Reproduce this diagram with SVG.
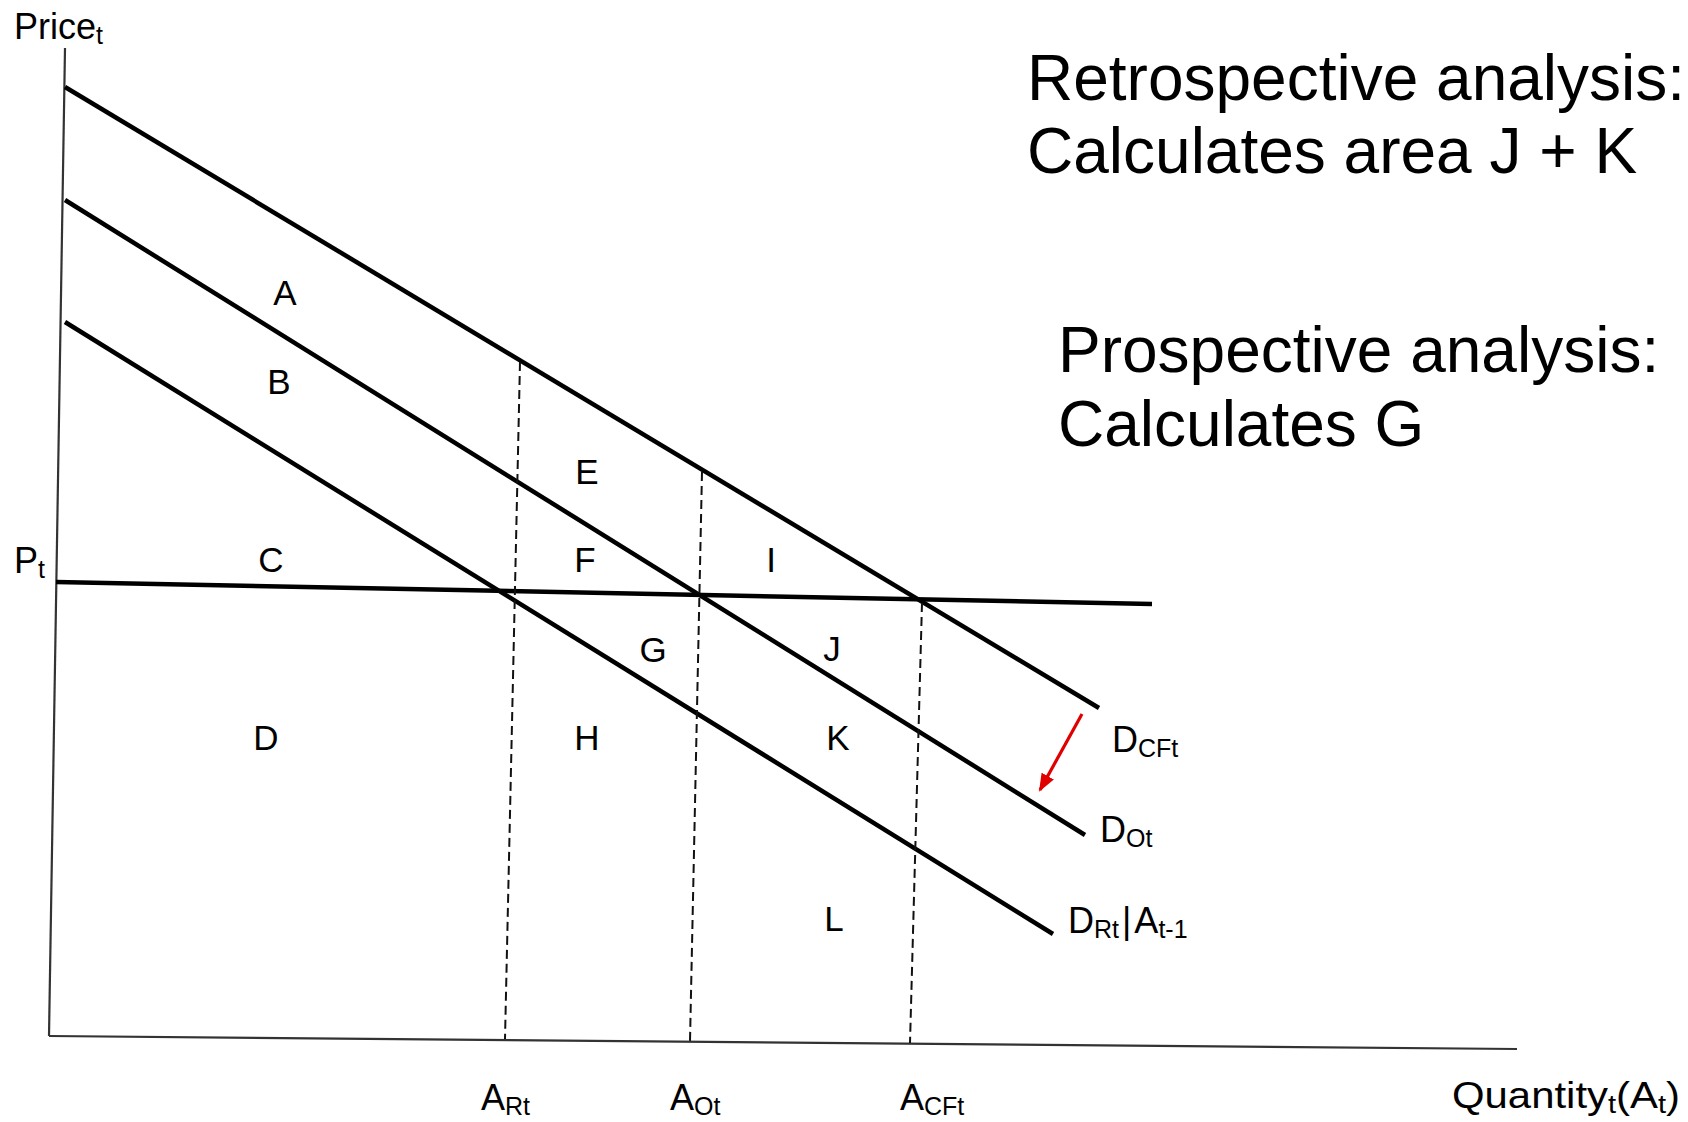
<svg xmlns="http://www.w3.org/2000/svg" width="1688" height="1122" viewBox="0 0 1688 1122">
<style>
.lbl{font-family:"Liberation Sans",Arial,sans-serif;font-size:35px;fill:#000;text-anchor:middle}
.ax{font-family:"Liberation Sans",Arial,sans-serif;font-size:36px;fill:#000}
.sub{font-size:25px}
.big{font-family:"Liberation Sans",Arial,sans-serif;font-size:64px;fill:#000}
.axis{stroke:#333;stroke-width:2.2;fill:none}
.curve{stroke:#000;stroke-width:4.5;fill:none;stroke-linecap:butt}
.dash{stroke:#111;stroke-width:2;stroke-dasharray:9 5;fill:none}
</style>
<defs>
<marker id="redhead" markerWidth="18" markerHeight="14" refX="16" refY="7" orient="auto" markerUnits="userSpaceOnUse" viewBox="0 0 18 14">
<path d="M0,0 L18,7 L0,14 z" fill="#e00000"/>
</marker>
</defs>
<rect width="1688" height="1122" fill="#fff"/>
<g id="axes">
<line class="axis" x1="65" y1="48" x2="49" y2="1036"/>
<line class="axis" x1="49" y1="1036" x2="1517" y2="1049"/>
</g>
<g id="connectors">
<line id="d-cf" class="curve" x1="65" y1="87" x2="1099" y2="708"/>
<line id="d-o" class="curve" x1="65" y1="200" x2="1085" y2="835"/>
<line id="d-r" class="curve" x1="65" y1="322" x2="1053" y2="934"/>
<line id="price-line" class="curve" x1="56" y1="582" x2="1152" y2="604"/>
<line id="dash-art" class="dash" x1="520" y1="362" x2="505" y2="1039"/>
<line id="dash-aot" class="dash" x1="702" y1="472" x2="690" y2="1041"/>
<line id="dash-acft" class="dash" x1="922" y1="603" x2="910" y2="1043"/>
<line id="shift-arrow" x1="1082" y1="714" x2="1040" y2="790" stroke="#e00000" stroke-width="3.2" marker-end="url(#redhead)"/>
</g>
<g id="axis-labels">
<text class="ax" x="14" y="39">Price<tspan class="sub" dy="5">t</tspan></text>
<text class="ax" x="14" y="573">P<tspan class="sub" dy="5">t</tspan></text>
<text class="ax" x="1452" y="1108" textLength="228" lengthAdjust="spacingAndGlyphs">Quantity<tspan class="sub" dy="5">t</tspan><tspan dy="-5">(A</tspan><tspan class="sub" dy="5">t</tspan><tspan dy="-5">)</tspan></text>
<text class="ax" x="481" y="1110">A<tspan class="sub" dy="5">Rt</tspan></text>
<text class="ax" x="670" y="1110">A<tspan class="sub" dy="5">Ot</tspan></text>
<text class="ax" x="900" y="1110">A<tspan class="sub" dy="5">CFt</tspan></text>
</g>
<g id="curve-labels">
<text class="ax" x="1112" y="752">D<tspan class="sub" dy="5">CFt</tspan></text>
<text class="ax" x="1100" y="842">D<tspan class="sub" dy="5">Ot</tspan></text>
<text class="ax" x="1068" y="933">D<tspan class="sub" dy="5">Rt</tspan><tspan dx="3" dy="-5">|</tspan><tspan dx="3">A</tspan><tspan class="sub" dy="5">t-1</tspan></text>
</g>
<g id="areas">
<text class="lbl" x="285" y="305">A</text>
<text class="lbl" x="279" y="394">B</text>
<text class="lbl" x="271" y="572">C</text>
<text class="lbl" x="266" y="750">D</text>
<text class="lbl" x="587" y="484">E</text>
<text class="lbl" x="585" y="572">F</text>
<text class="lbl" x="653" y="662">G</text>
<text class="lbl" x="587" y="750">H</text>
<text class="lbl" x="771" y="572">I</text>
<text class="lbl" x="832" y="661">J</text>
<text class="lbl" x="838" y="750">K</text>
<text class="lbl" x="834" y="931">L</text>
</g>
<g id="retrospective">
<text class="big" x="1027" y="100">Retrospective analysis:</text>
<text class="big" x="1027" y="173">Calculates area J + K</text>
</g>
<g id="prospective">
<text class="big" x="1058" y="372">Prospective analysis:</text>
<text class="big" x="1058" y="446">Calculates G</text>
</g>
</svg>
